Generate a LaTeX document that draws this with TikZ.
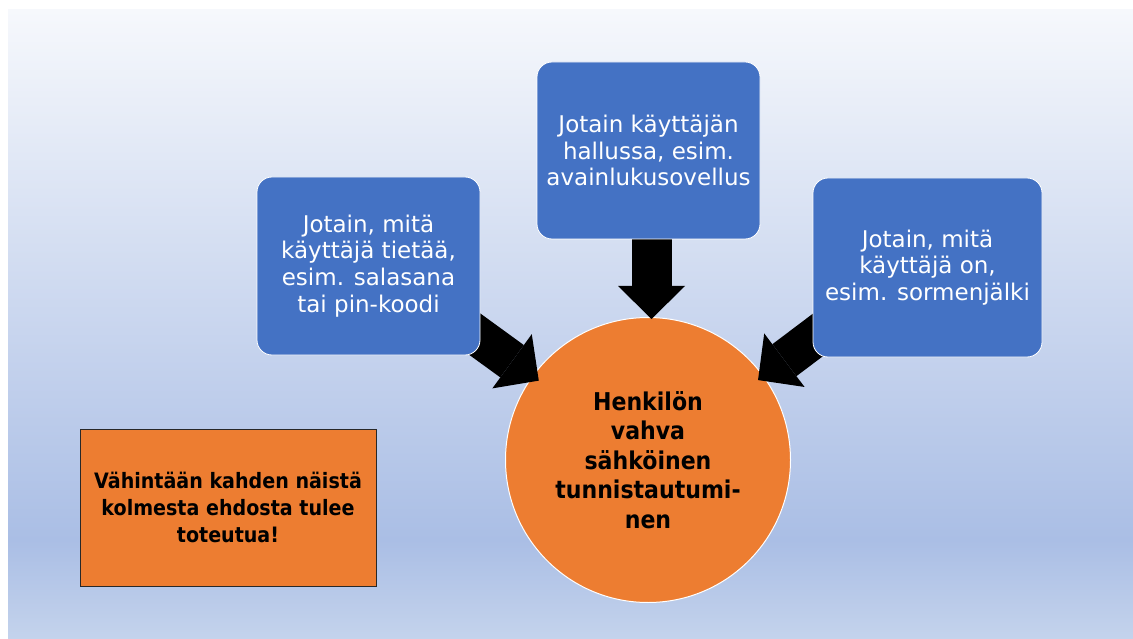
\documentclass[tikz,border=0pt]{standalone}
\usepackage{fontspec}
\setmainfont{DejaVu Sans}[FakeStretch=0.9]
\newfontfamily\panefont{DejaVu Sans}
\usetikzlibrary{arrows.meta,calc}

\definecolor{paneblue}{HTML}{4472C4}
\definecolor{coreorange}{HTML}{ED7D31}
\definecolor{skytop}{RGB}{246,248,252}
\definecolor{skymid}{RGB}{170,190,229}
\definecolor{skylow}{RGB}{196,211,236}
\definecolor{noteline}{RGB}{40,40,40}

\pgfdeclarelayer{back}
\pgfdeclarelayer{mid}
\pgfsetlayers{back,mid,main}

\begin{document}
\begin{tikzpicture}[x=1pt,y=1pt,
  factor/.style={rectangle, rounded corners=15pt, fill=paneblue, draw=white,
    line width=0.8pt, text=white, align=center, inner sep=0pt,
    font=\panefont\fontsize{23}{26.7}\selectfont},
  core/.style={circle, fill=coreorange, draw=white, line width=1pt,
    minimum size=285pt, inner sep=0pt, align=center, text=black,
    font=\bfseries\fontsize{24.5}{29.5}\selectfont},
  note/.style={rectangle, fill=coreorange, draw=noteline, line width=1pt,
    minimum width=296pt, minimum height=157pt, inner sep=0pt, align=center,
    text=black, font=\bfseries\fontsize{21.2}{27}\selectfont},
  blockarrow/.style={draw=black, line width=40pt,
    -{Triangle[length=33pt, width=67pt, line width=0pt]}}]

\useasboundingbox (0,0) rectangle (1133,-639);

\begin{pgfonlayer}{back}
  % white frame and the slide's vertical gradient
  \fill[white] (0,0) rectangle (1133,-639);
  \shade[top color=skytop, bottom color=skymid] (8,-10) rectangle (1133,-540);
  \shade[top color=skymid, bottom color=skylow] (8,-540) rectangle (1133,-639);
  % central goal
  \node[core] (core) at (648,-460)
    {Henkilön\\vahva\\sähköinen\\tunnistautumi-\\nen};
\end{pgfonlayer}

% the three factors
\node[factor, minimum width=223pt, minimum height=178pt] (boxL) at (368.5,-266)
  {Jotain, mitä\\käyttäjä tietää,\\esim. salasana\\tai pin-koodi};
\node[factor, minimum width=223pt, minimum height=177pt] (boxT) at (648.5,-150.5)
  {Jotain käyttäjän\\hallussa, esim.\\avainlukusovellus};
\node[factor, minimum width=229pt, minimum height=179pt] (boxR) at (927.5,-267.5)
  {Jotain, mitä\\käyttäjä on,\\esim. sormenjälki};

% the rule
\node[note] (rule) at (228,-507.5)
  {Vähintään kahden näistä\\kolmesta ehdosta tulee\\toteutua!};

% arrow ends
\coordinate (tailT) at ($(boxT.south)+(3,0)$);
\coordinate (tipT) at ($(core.north)+(3.5,-2)$);
\coordinate (tipL) at ($(core.center)+(144:135)$);
\coordinate (tipR) at ($(core.center)+(36:136)$);
\coordinate (tailL) at ($(tipL)+(144:180)$);
\coordinate (tailR) at ($(tipR)+(37:180)$);

\begin{pgfonlayer}{mid}
  \draw[blockarrow] (tailT) -- (tipT);
  \draw[blockarrow] (tailL) -- (tipL);
  \draw[blockarrow] (tailR) -- (tipR);
\end{pgfonlayer}
\end{tikzpicture}
\end{document}
